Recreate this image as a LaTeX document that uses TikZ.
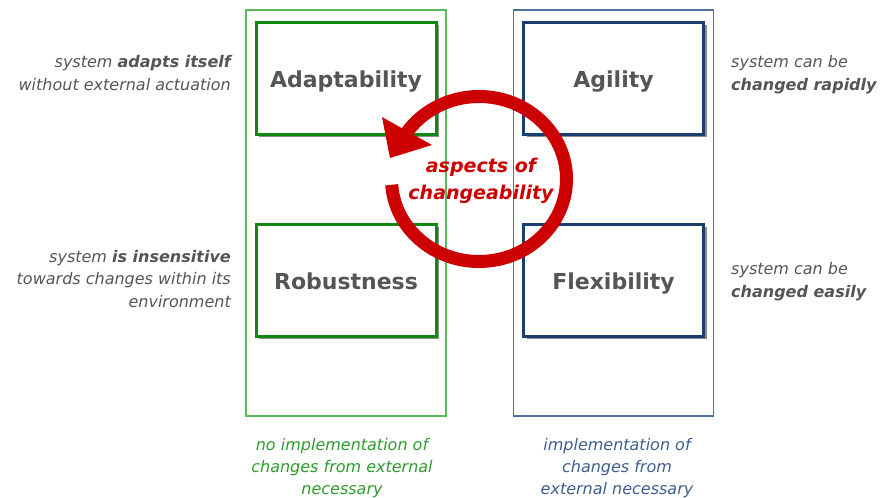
\documentclass[tikz,border=0pt]{standalone}
\usepackage{fontspec}
\setmainfont{DejaVu Sans}
\usetikzlibrary{shadows}
\definecolor{txtgray}{HTML}{555555}
\definecolor{frgreen}{HTML}{5CB85C}
\definecolor{bxgreen}{HTML}{118811}
\definecolor{tgreen}{HTML}{2E9B2E}
\definecolor{frblue}{HTML}{4F6F9F}
\definecolor{bxblue}{HTML}{1A3E6E}
\definecolor{tblue}{HTML}{3D5F8F}
\definecolor{cred}{HTML}{CC0000}
\tikzset{
  frame/.style={draw, line width=1.3pt, minimum width=200pt, minimum height=406pt, inner sep=0pt},
  aspectbox/.style={draw, fill=white, line width=3pt, minimum width=180pt, minimum height=112pt,
    inner sep=0pt, text=txtgray, font=\bfseries\fontsize{22}{26}\selectfont,
    text height=19pt, text depth=0pt,
    drop shadow={shadow xshift=3pt, shadow yshift=-3pt, fill=black!45, opacity=1}},
  desc/.style={inner sep=0pt, text=txtgray, font=\itshape\fontsize{16}{22.5}\selectfont},
  foot/.style={inner sep=0pt, align=center, font=\itshape\fontsize{16}{22}\selectfont}
}
\begin{document}
\begin{tikzpicture}[x=1pt,y=-1pt]
\useasboundingbox (0,0) rectangle (884,498);
% frames
\node[frame, draw=frgreen] (gframe) at (346,213) {};
\node[frame, draw=frblue] (bframe) at (613.5,213) {};
% boxes
\node[aspectbox, draw=bxgreen] (adapt) at (346,78) {Adaptability};
\node[aspectbox, draw=bxblue] (agil) at (613.5,78) {Agility};
\node[aspectbox, draw=bxgreen] (robust) at (346,280) {Robustness};
\node[aspectbox, draw=bxblue] (flex) at (613.5,280) {Flexibility};
% descriptions (base anchor = last line)
\node[desc, anchor=base east, align=right] (dadapt) at (231,90)
  {system \textbf{adapts itself}\\without external actuation};
\node[desc, anchor=base east, align=right] (drobust) at (231,307)
  {system \textbf{is insensitive}\\towards changes within its\\environment};
\node[desc, anchor=base west, align=left] (dagil) at (731,90)
  {system can be\\\textbf{changed rapidly}};
\node[desc, anchor=base west, align=left] (dflex) at (731,297)
  {system can be\\\textbf{changed easily}};
% footers
\node[foot, text=tgreen, anchor=base] (fgreen) at (342,494)
  {no implementation of\\changes from external\\necessary};
\node[foot, text=tblue, anchor=base] (fblue) at (617,494)
  {implementation of\\changes from\\external necessary};
% cycle arrow
\coordinate (cc) at (479,179);
\draw[cred, line width=13pt] (cc) ++(-184:87.5 and 82.5) arc[start angle=-184, end angle=-506, x radius=87.5, y radius=82.5];
\fill[cred] (382,117) -- (432,145) -- (390,158) -- cycle;
\node[inner sep=0pt, text=cred, align=center, font=\bfseries\itshape\fontsize{19}{27}\selectfont] (aspects) at (481,181)
  {aspects of\\changeability};
\end{tikzpicture}
\end{document}
